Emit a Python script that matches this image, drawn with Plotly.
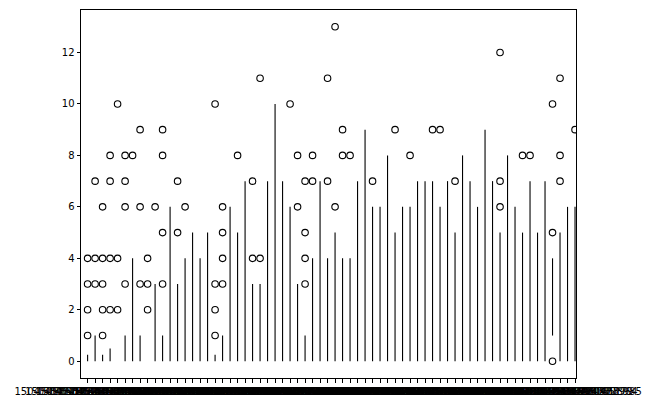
import plotly.graph_objects as go

# Per-category box span (q1 .. upper whisker) and outlier values
box_low = [0, 0, 0, 0, 0, 0, 0, 0, 0, 0,
           0, 0, 0, 0, 0, 0, 0, 0, 0, 0,
           0, 0, 0, 0, 0, 0, 0, 0, 0, 0,
           0, 0, 0, 0, 0, 0, 0, 0, 0, 0,
           0, 0, 0, 0, 0, 0, 0, 0, 0, 0,
           0, 0, 0, 0, 0, 0, 0, 0, 0, 0,
           0, 0, 1, 0, 0, 0]
box_high = [0.25, 1, 0.25, 0.5, 0, 1, 4, 1, 0, 3,
            1, 6, 3, 4, 5, 4, 5, 0.25, 1, 6,
            5, 7, 3, 3, 7, 10, 7, 6, 3, 1,
            4, 7, 4, 5, 4, 4, 7, 9, 6, 6,
            8, 5, 6, 6, 7, 7, 7, 6, 7, 5,
            8, 7, 6, 9, 7, 5, 8, 6, 5, 7,
            5, 7, 4, 5, 6, 6]
outliers = [[1, 2, 3, 4], [3, 4, 7], [1, 2, 3, 4, 6], [2, 4, 7, 8], [2, 4, 10],
            [3, 6, 7, 8], [8], [3, 6, 9], [2, 3, 4], [6],
            [3, 5, 8, 9], [], [5, 7], [6], [], [], [], [1, 2, 3, 10], [3, 4, 5, 6], [],
            [8], [], [4, 7], [4, 11], [], [], [], [10], [6, 8], [3, 4, 5, 7],
            [7, 8], [], [7, 11], [6, 13], [8, 9], [8], [], [], [7], [],
            [], [9], [], [8], [], [], [9], [9], [], [7],
            [], [], [], [], [], [6, 7, 12], [], [], [8], [8],
            [], [], [0, 5, 10], [7, 8, 11], [], [9]]
tick_labels = [
    "15045098531504510132405", "1504512785150451301994", "150451562315045160278",
    "15045188441504519230155", "1504521906150452237712", "150452501815045254407",
    "15045281371504528569023", "1504531250150453166184", "150453435815045348012",
    "15045374761504537911660", "1504540589150454103325", "150454370215045441478",
    "15045468201504547263104", "1504549938150455038121", "150455305115045534946",
    "15045561691504556612389", "1504559282150455972503", "150456240015045628436",
    "15045655181504565961287", "1504568631150456907410", "150457174915045721925",
    "15045748621504575305733", "1504577980150457842366", "150458109315045815364",
    "15045842111504584654801", "1504587324150458776749", "150459044215045908850",
    "15045935601504594003977", "1504596673150459711602", "150459979115046002349",
    "15046029041504603347215", "1504606022150460646568", "150460913515046095783",
    "15046122531504612696491", "1504615366150461580914", "150461848415046189272",
    "15046216021504622045658", "1504624715150462515830", "150462783315046282767",
    "15046309461504631389542", "1504634064150463450711", "150463717715046376205",
    "15046402951504640738326", "1504643408150464385179", "150464652615046469694",
    "15046496391504650082717", "1504652757150465320033", "150465587015046563138",
    "15046589881504659431640", "1504662101150466254452", "150466521915046656627",
    "15046683321504668775391", "1504671450150467189315", "150467456315046750067",
    "15046776811504678124554", "1504680794150468123702", "150468391215046843553",
    "15046870251504687468849", "1504690143150469058620", "150469325615046936996",
    "15046963741504696817433", "1504699487150469993015", "150470260515047030488",
    "15047057181504706161279", "1504708836150470927964", "150471194915047128985",
]

n = len(box_high)
xs = list(range(n))

line_x, line_y = [], []
for i in xs:
    if box_high[i] > box_low[i]:
        line_x += [i, i, None]
        line_y += [box_low[i], box_high[i], None]

out_x, out_y = [], []
for i in xs:
    for v in outliers[i]:
        out_x.append(i)
        out_y.append(v)

fig = go.Figure()
fig.add_trace(go.Scatter(x=line_x, y=line_y, mode="lines",
                         line=dict(color="black", width=1.1),
                         hoverinfo="skip", showlegend=False))
fig.add_trace(go.Scatter(x=out_x, y=out_y, mode="markers",
                         marker=dict(symbol="circle-open", size=6.5,
                                     color="black", line=dict(width=1.1)),
                         showlegend=False))

axis_common = dict(showline=True, linecolor="black", linewidth=1, mirror=True,
                   ticks="outside", ticklen=3.5, tickwidth=1, tickcolor="black",
                   showgrid=False, zeroline=False, automargin=False,
                   tickfont=dict(family="DejaVu Sans", size=10, color="black"))

fig.update_layout(
    width=646, height=413,
    margin=dict(l=81, r=70, t=10, b=35, autoexpand=False),
    paper_bgcolor="white", plot_bgcolor="white",
    xaxis=dict(range=[-0.88, 65.13], tickmode="array", tickvals=xs,
               ticktext=tick_labels, tickangle=0, **axis_common),
    yaxis=dict(range=[-0.65, 13.65], tickmode="array",
               tickvals=[0, 2, 4, 6, 8, 10, 12], **axis_common),
    font=dict(family="DejaVu Sans", size=10, color="black"),
)

fig.write_html("out.html")
